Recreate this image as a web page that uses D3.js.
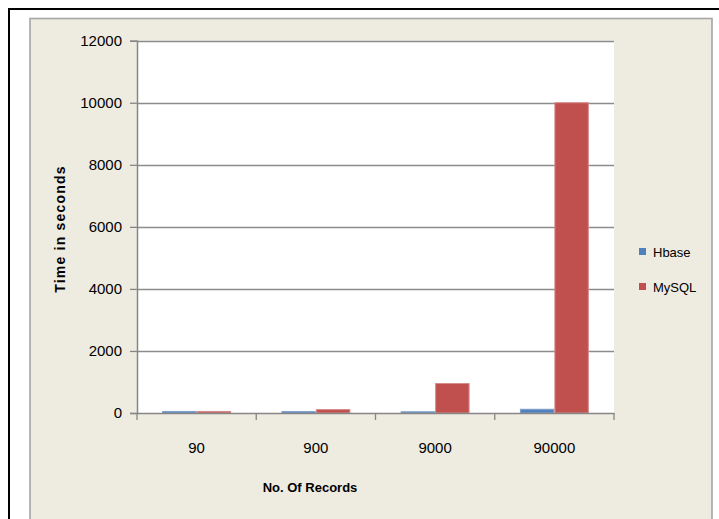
<!DOCTYPE html>
<html>
<head>
<meta charset="utf-8">
<script src="https://cdn.jsdelivr.net/npm/d3@7"></script>
<style>
  html, body { margin: 0; padding: 0; background: #fff; }
  svg { display: block; }
  text { font-family: "Liberation Sans", Arial, sans-serif; }
</style>
</head>
<body>
<svg id="chart" width="719" height="519"></svg>
<script>
const categories = ["90", "900", "9000", "90000"];
const seriesNames = ["Hbase", "MySQL"];
const hbaseValues = [50, 45, 40, 120];
const mysqlValues = [50, 110, 950, 10000];
const yTicks = [0, 2000, 4000, 6000, 8000, 10000, 12000];
const colors = ["#4F81BD", "#C0504D"];
const strokes = ["#7E9FCB", "#D58A88"];

const values = [hbaseValues, mysqlValues];
const svg = d3.select("#chart");

// outer frame
svg.append("rect").attr("x", 0).attr("y", 0).attr("width", 719).attr("height", 519).attr("fill", "#fff");
svg.append("line").attr("x1", 8).attr("x2", 719).attr("y1", 9).attr("y2", 9).attr("stroke", "#000").attr("stroke-width", 2);
svg.append("line").attr("x1", 9).attr("x2", 9).attr("y1", 8).attr("y2", 519).attr("stroke", "#000").attr("stroke-width", 2);

// chart panel
svg.append("rect").attr("x", 30).attr("y", 18.5).attr("width", 682).attr("height", 520)
  .attr("fill", "#EEEBE0").attr("stroke", "#A6A6A6").attr("stroke-width", 1.6);

const pLeft = 137, pRight = 614, pTop = 40.7, pBottom = 413;
const x = d3.scaleBand().domain(categories).range([pLeft, pRight]).paddingInner(0).paddingOuter(0);
const x1 = d3.scaleBand().domain(seriesNames).range([0, x.bandwidth()]).paddingInner(0).paddingOuter(0.73);
const y = d3.scaleLinear().domain([0, 12000]).range([pBottom, pTop]);

// plot area
svg.append("rect").attr("x", pLeft).attr("y", pTop).attr("width", pRight - pLeft).attr("height", pBottom - pTop).attr("fill", "#fff");

// gridlines
svg.append("g").selectAll("line").data(yTicks.filter(d => d > 0)).join("line")
  .attr("x1", pLeft).attr("x2", pRight)
  .attr("y1", d => Math.round(y(d)) + 0.5).attr("y2", d => Math.round(y(d)) + 0.5)
  .attr("stroke", "#8C8C8C").attr("stroke-width", 1.3);

// bars
const groups = svg.append("g").selectAll("g").data(categories).join("g")
  .attr("transform", d => `translate(${x(d)},0)`);
groups.selectAll("rect").data((c, i) => seriesNames.map((s, j) => ({ s, j, v: values[j][i] }))).join("rect")
  .attr("x", d => x1(d.s) + 0.5)
  .attr("width", x1.bandwidth() - 1)
  .attr("y", d => y(d.v))
  .attr("height", d => pBottom - y(d.v))
  .attr("fill", d => colors[d.j])
  .attr("stroke", d => strokes[d.j]).attr("stroke-width", 1);

// y axis
const yAxis = d3.axisLeft(y).tickValues(yTicks).tickSize(7).tickPadding(8).tickFormat(d3.format("d"));
const ya = svg.append("g").attr("transform", `translate(${pLeft},0)`).call(yAxis);
ya.select(".domain").attr("stroke", "#868686").attr("stroke-width", 1.5);
ya.selectAll(".tick line").attr("stroke", "#868686").attr("stroke-width", 1.3);
ya.selectAll(".tick text").attr("font-size", 15).attr("fill", "#000").attr("font-family", "Liberation Sans, Arial, sans-serif");

// x axis
const xAxis = d3.axisBottom(x).tickSize(0).tickPadding(0);
const xa = svg.append("g").attr("transform", `translate(0,${pBottom})`).call(xAxis);
xa.select(".domain").attr("stroke", "#868686").attr("stroke-width", 1.5);
xa.selectAll(".tick text").attr("font-size", 15).attr("fill", "#000").attr("dy", "0").attr("y", 40)
  .attr("font-family", "Liberation Sans, Arial, sans-serif");
// x boundary ticks
svg.append("g").selectAll("line").data(categories.map(c => x(c)).concat([x.range()[1]])).join("line")
  .attr("x1", d => d).attr("x2", d => d).attr("y1", pBottom).attr("y2", pBottom + 7)
  .attr("stroke", "#868686").attr("stroke-width", 1.3);

// axis titles
svg.append("text").attr("x", 310).attr("y", 492).attr("text-anchor", "middle")
  .attr("font-size", 13).attr("font-weight", "bold").attr("fill", "#000").text("No. Of Records");
svg.append("text").attr("transform", "translate(65,229) rotate(-90)").attr("text-anchor", "middle")
  .attr("font-size", 14).attr("font-weight", "bold").attr("letter-spacing", 1.2).attr("fill", "#000").text("Time in seconds");

// legend
const legend = svg.append("g").selectAll("g").data(seriesNames).join("g")
  .attr("transform", (d, i) => `translate(639,${248 + i * 35})`);
legend.append("rect").attr("width", 7).attr("height", 7).attr("fill", (d, i) => colors[i]);
legend.append("text").attr("x", 14).attr("y", 8.5).attr("font-size", 13).attr("fill", "#000").text(d => d);
</script>
</body>
</html>
